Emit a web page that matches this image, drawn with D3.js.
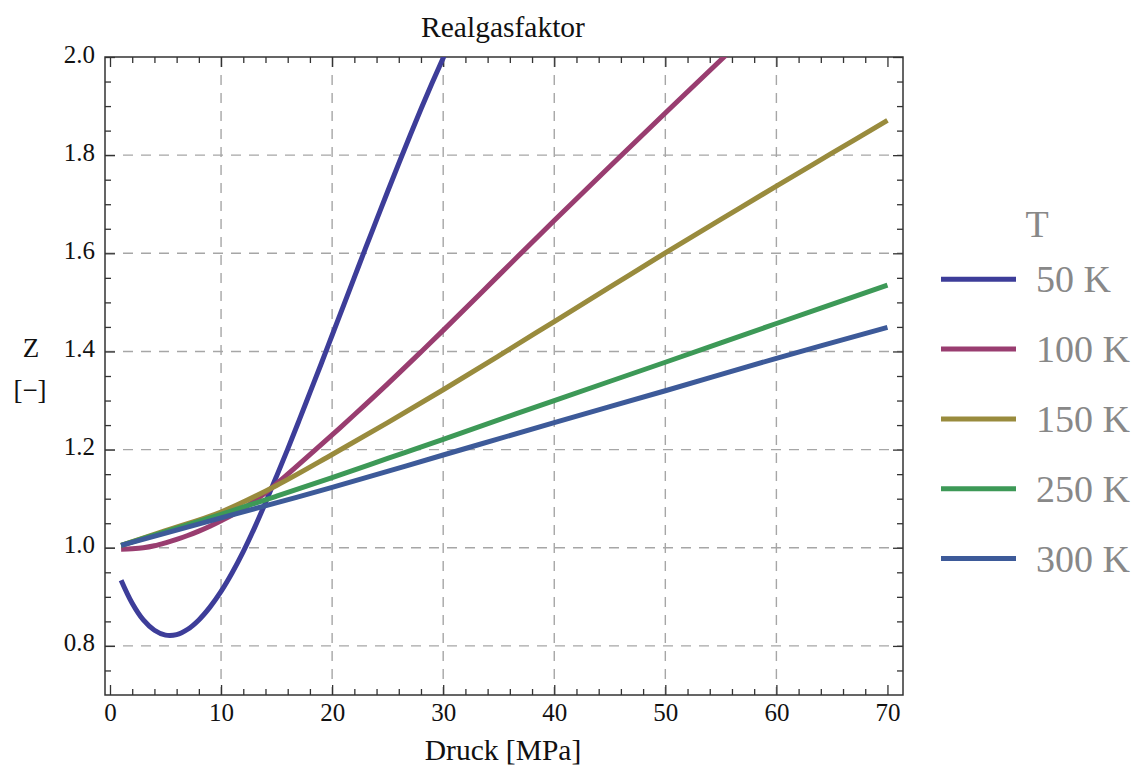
<!DOCTYPE html>
<html>
<head>
<meta charset="utf-8">
<script src="https://cdn.jsdelivr.net/npm/d3@7"></script>
<style>
  html, body { margin: 0; padding: 0; background: #fff; }
  svg { display: block; }
  text { font-family: "Liberation Serif", "Times New Roman", serif; }
</style>
</head>
<body>
<svg id="chart" width="1137" height="769"></svg>
<script>
// ---- data ----
const seriesNames = ["50 K", "100 K", "150 K", "250 K", "300 K"];
const seriesColors = ["rgb(61,61,153)", "rgb(153,61,112)", "rgb(153,139,61)", "rgb(61,153,87)", "rgb(61,90,153)"];

const p50  = [1, 2, 3, 4, 5, 6, 7, 8, 9, 10, 11, 12, 13, 14, 15, 16, 17, 18, 19, 20, 21, 22, 23, 24, 25, 26, 27, 28, 29, 30, 31];
const z50  = [0.934, 0.887, 0.853, 0.832, 0.822, 0.823, 0.834, 0.853, 0.879, 0.911, 0.949, 0.992, 1.040, 1.092, 1.146, 1.201, 1.258, 1.316, 1.374, 1.433, 1.492, 1.551, 1.610, 1.668, 1.726, 1.783, 1.839, 1.894, 1.947, 1.998, 2.048];

const p100 = [1, 2, 3, 4, 5, 6, 7, 8, 9, 10, 12, 14, 16, 18, 20, 22, 25, 28, 30, 35, 40, 45, 50, 55, 57];
const z100 = [0.997, 0.998, 1.000, 1.004, 1.010, 1.017, 1.025, 1.034, 1.044, 1.055, 1.080, 1.112, 1.150, 1.190, 1.230, 1.271, 1.334, 1.399, 1.443, 1.555, 1.667, 1.777, 1.886, 1.994, 2.037];

const p150 = [1, 5, 10, 15, 20, 25, 30, 35, 40, 45, 50, 55, 60, 65, 70];
const z150 = [1.005, 1.035, 1.073, 1.127, 1.190, 1.255, 1.322, 1.391, 1.461, 1.531, 1.601, 1.669, 1.737, 1.804, 1.871];

const p250 = [1, 5, 10, 15, 20, 25, 30, 40, 50, 60, 70];
const z250 = [1.005, 1.033, 1.068, 1.105, 1.143, 1.182, 1.221, 1.300, 1.378, 1.457, 1.535];

const p300 = [1, 10, 20, 30, 40, 50, 60, 70];
const z300 = [1.005, 1.061, 1.123, 1.189, 1.255, 1.320, 1.386, 1.449];

const xMajorTicks = [0, 10, 20, 30, 40, 50, 60, 70];
const xMinorTicks = d3.range(0, 71, 2).filter(v => v % 10 !== 0);
const yMajorTicks = [0.8, 1.0, 1.2, 1.4, 1.6, 1.8, 2.0];
const yMinorTicks = [0.75, 0.85, 0.9, 0.95, 1.05, 1.1, 1.15, 1.25, 1.3, 1.35, 1.45, 1.5, 1.55, 1.65, 1.7, 1.75, 1.85, 1.9, 1.95];
const xGrid = [10, 20, 30, 40, 50, 60];
const yGrid = [0.8, 1.0, 1.2, 1.4, 1.6, 1.8];

const titleText = "Realgasfaktor";
const xLabel = "Druck [MPa]";
const yLabel1 = "Z";
const yLabel2 = "[\u2212]";
const legendTitle = "T";

const series = [
  { name: seriesNames[0], color: seriesColors[0], p: p50,  z: z50 },
  { name: seriesNames[1], color: seriesColors[1], p: p100, z: z100 },
  { name: seriesNames[2], color: seriesColors[2], p: p150, z: z150 },
  { name: seriesNames[3], color: seriesColors[3], p: p250, z: z250 },
  { name: seriesNames[4], color: seriesColors[4], p: p300, z: z300 }
];

// ---- layout ----
const L = 105, R = 903, T = 57, B = 695;
const svg = d3.select("#chart");
const x = d3.scaleLinear().domain([-0.45, 71.4]).range([L, R]);
const y = d3.scaleLinear().domain([0.7, 2.0]).range([B, T]);

// grid
const grid = svg.append("g").attr("stroke", "#a6a6a6").attr("stroke-width", 1.4).attr("stroke-dasharray", "10,8");
grid.selectAll(".gx").data(xGrid).join("line")
  .attr("x1", d => x(d)).attr("x2", d => x(d)).attr("y1", T).attr("y2", B);
grid.selectAll(".gy").data(yGrid).join("line")
  .attr("x1", L).attr("x2", R).attr("y1", d => y(d)).attr("y2", d => y(d));

// axes via d3 axis generators (ticks inward)
const axisColor = "#333";
function styleAxis(g) {
  g.select(".domain").remove();
  g.selectAll("line").attr("stroke", axisColor).attr("stroke-width", 1.3);
}
svg.append("g").attr("transform", `translate(0,${B})`)
  .call(d3.axisBottom(x).tickValues(xMajorTicks).tickSize(-10).tickPadding(0).tickFormat(d3.format("d")))
  .call(styleAxis)
  .call(g => g.selectAll("text").attr("font-size", 25).attr("fill", "#111")
     .attr("font-family", "Liberation Serif, serif").attr("dy", 0).attr("y", 26));
svg.append("g").attr("transform", `translate(0,${B})`)
  .call(d3.axisBottom(x).tickValues(xMinorTicks).tickSize(-6).tickFormat(""))
  .call(styleAxis);
svg.append("g").attr("transform", `translate(0,${T})`)
  .call(d3.axisTop(x).tickValues(xMajorTicks).tickSize(-10).tickFormat(""))
  .call(styleAxis);
svg.append("g").attr("transform", `translate(0,${T})`)
  .call(d3.axisTop(x).tickValues(xMinorTicks).tickSize(-6).tickFormat(""))
  .call(styleAxis);
svg.append("g").attr("transform", `translate(${L},0)`)
  .call(d3.axisLeft(y).tickValues(yMajorTicks).tickSize(-10).tickPadding(0).tickFormat(d3.format(".1f")))
  .call(styleAxis)
  .call(g => g.selectAll("text").attr("font-size", 25).attr("fill", "#111")
     .attr("font-family", "Liberation Serif, serif").attr("x", -10).attr("dy", "0.2em"));
svg.append("g").attr("transform", `translate(${L},0)`)
  .call(d3.axisLeft(y).tickValues(yMinorTicks).tickSize(-6).tickFormat(""))
  .call(styleAxis);
svg.append("g").attr("transform", `translate(${R},0)`)
  .call(d3.axisRight(y).tickValues(yMajorTicks).tickSize(-10).tickFormat(""))
  .call(styleAxis);
svg.append("g").attr("transform", `translate(${R},0)`)
  .call(d3.axisRight(y).tickValues(yMinorTicks).tickSize(-6).tickFormat(""))
  .call(styleAxis);

// frame
svg.append("rect").attr("x", L).attr("y", T).attr("width", R - L).attr("height", B - T)
  .attr("fill", "none").attr("stroke", axisColor).attr("stroke-width", 1.5);

// clip
svg.append("clipPath").attr("id", "clip").append("rect")
  .attr("x", L).attr("y", T).attr("width", R - L).attr("height", B - T);

// lines
const line = d3.line().x(d => x(d[0])).y(d => y(d[1])).curve(d3.curveCatmullRom.alpha(0.5));
svg.append("g").attr("clip-path", "url(#clip)")
  .selectAll("path").data(series).join("path")
  .attr("d", s => line(s.p.map((v, i) => [v, s.z[i]])))
  .attr("fill", "none").attr("stroke", s => s.color).attr("stroke-width", 5)
  .attr("stroke-linejoin", "round");

// title
svg.append("text").attr("x", 503).attr("y", 37).attr("text-anchor", "middle")
  .attr("font-size", 29.5).attr("fill", "#111").text(titleText);
// x label
svg.append("text").attr("x", 503).attr("y", 760).attr("text-anchor", "middle")
  .attr("font-size", 29.5).attr("fill", "#111").text(xLabel);
// y label
svg.append("text").attr("x", 31).attr("y", 357).attr("text-anchor", "middle")
  .attr("font-size", 27).attr("fill", "#111").text(yLabel1);
svg.append("text").attr("x", 30).attr("y", 399).attr("text-anchor", "middle")
  .attr("font-size", 27).attr("fill", "#111").text(yLabel2);

// legend
const legY0 = 279.3, legDY = 69.8;
const leg = svg.append("g");
leg.append("text").attr("x", 1037).attr("y", 236.5).attr("text-anchor", "middle")
  .attr("font-size", 38).attr("fill", "#888").text(legendTitle);
const items = leg.selectAll("g.item").data(series).join("g").attr("class", "item")
  .attr("transform", (d, i) => `translate(0,${legY0 + i * legDY})`);
items.append("line").attr("x1", 941).attr("x2", 1016).attr("y1", 0).attr("y2", 0)
  .attr("stroke", d => d.color).attr("stroke-width", 5);
items.append("text").attr("x", 1036).attr("y", 13)
  .attr("font-size", 38).attr("fill", "#888").text(d => d.name);
</script>
</body>
</html>
